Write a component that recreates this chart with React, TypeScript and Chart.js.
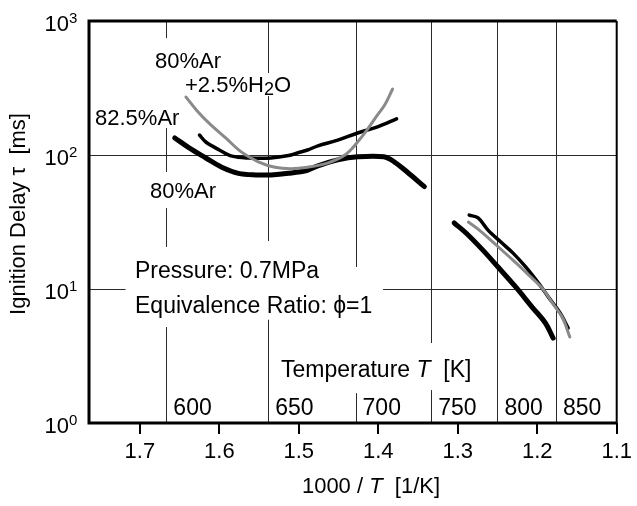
import React, { useEffect, useRef } from "react";
import { Chart, registerables } from "chart.js";
Chart.register(...registerables);

// ---- data ----
const xTickValues = [1.7, 1.6, 1.5, 1.4, 1.3, 1.2, 1.1];
const yDecades = [1, 10, 100, 1000];
const yExponents = ["0", "1", "2", "3"];
const tempLabels = [600, 650, 700, 750, 800, 850];

// 80%Ar (thick black)
const ar80LowX = [1.656, 1.638, 1.617, 1.597, 1.576, 1.554, 1.535, 1.513, 1.489, 1.476, 1.451, 1.426, 1.393, 1.380, 1.364, 1.342];
const ar80LowY = [134, 113, 95, 81, 73, 71, 71, 73, 77, 83, 92, 97, 97, 89, 75, 58];
const ar80HighX = [1.3045, 1.2896, 1.2684, 1.2485, 1.2274, 1.2062, 1.190, 1.180];
const ar80HighY = [31.1, 26.2, 19.5, 14.4, 10.4, 7.3, 5.6, 4.3];

// 82.5%Ar (black)
const ar82LowX = [1.625, 1.617, 1.600, 1.584, 1.563, 1.535, 1.513, 1.501, 1.489, 1.476, 1.451, 1.426, 1.401, 1.377];
const ar82LowY = [141, 125, 109, 98, 95, 95, 99, 104, 109, 117, 129, 146, 162, 186];
const ar82HighX = [1.2856, 1.2744, 1.2619, 1.2457, 1.2307, 1.2145, 1.1996, 1.1859, 1.171, 1.1611];
const ar82HighY = [35.6, 33.9, 27.5, 22.4, 18.6, 14.6, 11.3, 8.7, 6.6, 5.1];

// 80%Ar + 2.5%H2O (gray)
const h2oLowX = [1.642, 1.629, 1.613, 1.592, 1.572, 1.551, 1.530, 1.510, 1.489, 1.464, 1.442, 1.429, 1.417, 1.401, 1.392, 1.382];
const h2oLowY = [271, 217, 173, 134, 105, 89, 81, 79, 81, 87, 100, 119, 146, 199, 236, 311];
const h2oHighX = [1.2866, 1.2729, 1.2517, 1.2305, 1.2106, 1.193, 1.181, 1.168, 1.159];
const h2oHighY = [31.6, 27.5, 21.3, 16.4, 12.7, 10.0, 7.87, 6.08, 4.38];

// visible pieces of the temperature grid lines (in τ, ms)
const tempGridSegments = [
  [[746, 1000], [74.7, 159], [20.6, 40.2], [1, 5.2]],
  [[409, 1000], [22.8, 275], [1, 5.9]],
  [[14.6, 1000], [1, 1.67]],
  [[3.95, 1000], [1, 1.76]],
  [[1, 1000]],
  [[1, 1000]],
];
// visible pieces of the horizontal grid lines (in 1000/T)
const hGridValues = [100, 10];
const hGridSegments = [
  [[1.1, 1.8]],
  [[1.718, 1.8], [1.1, 1.394]],
];

const X_MIN = 1.1;
const X_MAX = 1.764;
const FONT = '"Liberation Sans", Arial, Helvetica, sans-serif';

const pts = (xs: number[], ys: number[]) => xs.map((x, i) => ({ x, y: ys[i] }));

type Run = { t: string; size: number; italic?: boolean; dy?: number };
function runsWidth(ctx: CanvasRenderingContext2D, runs: Run[]) {
  let w = 0;
  for (const r of runs) {
    ctx.font = `${r.italic ? "italic " : ""}${r.size}px ${FONT}`;
    w += ctx.measureText(r.t).width;
  }
  return w;
}
function drawRuns(ctx: CanvasRenderingContext2D, runs: Run[], x: number, y: number) {
  let cx = x;
  ctx.textAlign = "left";
  ctx.textBaseline = "alphabetic";
  for (const r of runs) {
    ctx.font = `${r.italic ? "italic " : ""}${r.size}px ${FONT}`;
    ctx.fillText(r.t, cx, y + (r.dy || 0));
    cx += ctx.measureText(r.t).width;
  }
}

const overlay = {
  id: "overlay",
  beforeDatasetsDraw(chart: any) {
    const { ctx, scales, chartArea: a } = chart;
    const xs = scales.x;
    const ys = scales.y;
    ctx.save();
    ctx.strokeStyle = "#2a2a2a";
    ctx.lineWidth = 1;
    tempLabels.forEach((T, i) => {
      const px = Math.round(xs.getPixelForValue(1000 / T)) + 0.5;
      tempGridSegments[i].forEach(([lo, hi]) => {
        ctx.beginPath();
        ctx.moveTo(px, Math.max(a.top, ys.getPixelForValue(hi)));
        ctx.lineTo(px, Math.min(a.bottom, ys.getPixelForValue(lo)));
        ctx.stroke();
      });
    });
    hGridValues.forEach((v, i) => {
      const py = Math.round(ys.getPixelForValue(v)) + 0.5;
      hGridSegments[i].forEach(([lo, hi]) => {
        ctx.beginPath();
        ctx.moveTo(Math.max(a.left, xs.getPixelForValue(hi)), py);
        ctx.lineTo(Math.min(a.right, xs.getPixelForValue(lo)), py);
        ctx.stroke();
      });
    });

    ctx.fillStyle = "#000";
    // temperature labels
    tempLabels.forEach((T) => {
      const px = xs.getPixelForValue(1000 / T);
      drawRuns(ctx, [{ t: String(T), size: 23 }], px + 7, a.bottom - 8);
    });
    // annotations
    drawRuns(ctx, [{ t: "80%Ar", size: 22 }], 155, 68);
    drawRuns(ctx, [{ t: "+2.5%H", size: 22 }, { t: "2", size: 18, dy: 3 }, { t: "O", size: 22 }], 185, 92);
    drawRuns(ctx, [{ t: "82.5%Ar", size: 22 }], 95, 125);
    drawRuns(ctx, [{ t: "80%Ar", size: 22 }], 150, 198);
    drawRuns(ctx, [{ t: "Pressure: 0.7MPa", size: 23 }], 135, 278);
    drawRuns(ctx, [{ t: "Equivalence Ratio: \u03D5=1", size: 23 }], 135, 313);
    drawRuns(ctx, [{ t: "Temperature ", size: 23 }, { t: "T", size: 23, italic: true }, { t: "  [K]", size: 23 }], 281, 377);

    // y tick labels 10^n
    yDecades.forEach((v, i) => {
      const py = ys.getPixelForValue(v);
      ctx.font = `22px ${FONT}`;
      ctx.textAlign = "right";
      ctx.textBaseline = "alphabetic";
      ctx.fillText("10", 69, py + 10);
      ctx.font = `15px ${FONT}`;
      ctx.textAlign = "left";
      ctx.fillText(yExponents[i], 69, py + 2);
    });

    // x axis title
    const xt: Run[] = [{ t: "1000 / ", size: 22 }, { t: "T", size: 22, italic: true }, { t: "  [1/K]", size: 22 }];
    const wx = runsWidth(ctx, xt);
    drawRuns(ctx, xt, 371 - wx / 2, 493);

    // y axis title
    const yTitle = "Ignition Delay \u03C4  [ms]";
    ctx.save();
    ctx.translate(25, 214);
    ctx.rotate(-Math.PI / 2);
    ctx.font = `22px ${FONT}`;
    ctx.textAlign = "center";
    ctx.textBaseline = "alphabetic";
    ctx.fillText(yTitle, 0, 0, 206);
    ctx.restore();
    ctx.restore();
  },
  afterDatasetsDraw(chart: any) {
    const { ctx, chartArea: a } = chart;
    ctx.save();
    ctx.strokeStyle = "#000";
    ctx.lineWidth = 3;
    ctx.beginPath();
    ctx.moveTo(a.right, a.top);
    ctx.lineTo(a.left, a.top);
    ctx.lineTo(a.left, a.bottom);
    ctx.lineTo(a.right, a.bottom);
    ctx.stroke();
    ctx.lineWidth = 2;
    ctx.beginPath();
    ctx.moveTo(a.right, a.top);
    ctx.lineTo(a.right, a.bottom);
    ctx.stroke();
    ctx.restore();
  },
};

export default function App() {
  const ref = useRef<HTMLCanvasElement | null>(null);
  useEffect(() => {
    if (!ref.current) return;
    const black = "#000";
    const gray = "#8a8a8a";
    const ds = (data: any[], color: string, width: number) => ({
      data,
      borderColor: color,
      backgroundColor: color,
      borderWidth: width,
      pointRadius: 0,
      showLine: true,
      tension: 0.35,
      borderCapStyle: "round",
      borderJoinStyle: "round",
    });
    const chart = new Chart(ref.current, {
      type: "scatter",
      data: {
        datasets: [
          ds(pts(h2oLowX, h2oLowY), gray, 3),
          ds(pts(h2oHighX, h2oHighY), gray, 3),
          ds(pts(ar82LowX, ar82LowY), black, 3.5),
          ds(pts(ar82HighX, ar82HighY), black, 3.5),
          ds(pts(ar80LowX, ar80LowY), black, 5),
          ds(pts(ar80HighX, ar80HighY), black, 5),
        ] as any,
      },
      options: {
        animation: false,
        responsive: false,
        devicePixelRatio: 1,
        layout: { padding: { top: 21, right: 15, left: 0, bottom: 0 } },
        plugins: { legend: { display: false }, tooltip: { enabled: false } },
        scales: {
          x: {
            type: "linear",
            reverse: true,
            min: X_MIN,
            max: X_MAX,
            afterBuildTicks: (s: any) => {
              s.ticks = xTickValues.map((v) => ({ value: v }));
            },
            afterFit: (s: any) => {
              s.height = 83;
            },
            ticks: {
              color: "#000",
              padding: 5,
              maxRotation: 0,
              autoSkip: false,
              font: { family: FONT, size: 22 },
              callback: (v: any) => Number(v).toFixed(1),
            },
            grid: {
              drawOnChartArea: false,
              drawTicks: true,
              tickLength: 11,
              color: "#000",
              lineWidth: 2,
            },
            border: { display: false },
          },
          y: {
            type: "logarithmic",
            min: 1,
            max: 1000,
            afterFit: (s: any) => {
              s.width = 89;
            },
            ticks: { display: false },
            grid: { display: false },
            border: { display: false },
          },
        },
      } as any,
      plugins: [overlay],
    });
    return () => chart.destroy();
  }, []);
  return (
    <div style={{ position: "absolute", left: 0, top: 0, width: 637, height: 506, background: "#fff" }}>
      <canvas ref={ref} width={637} height={506} />
    </div>
  );
}
